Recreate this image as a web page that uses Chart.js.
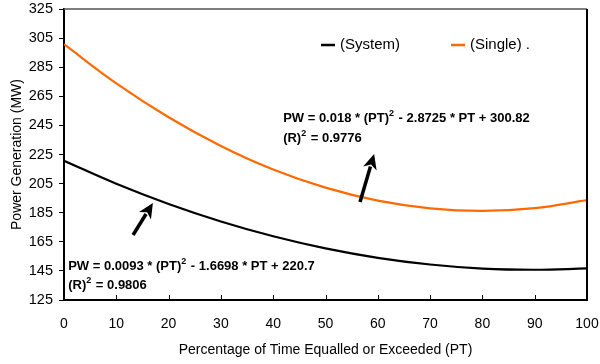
<!DOCTYPE html>
<html>
<head>
<meta charset="utf-8">
<script src="https://cdn.jsdelivr.net/npm/chart.js@4.4.1/dist/chart.umd.min.js"></script>
<style>
  html, body { margin: 0; padding: 0; background: #fff; }
  #wrap { width: 600px; height: 364px; }
</style>
</head>
<body>
<div id="wrap"><canvas id="chart" width="600" height="364"></canvas></div>
<script>
// ---------- Data ----------
const ptValues = [0, 10, 20, 30, 40, 50, 60, 70, 80, 90, 100];
const systemPW = [220.7, 204.9, 191.0, 179.0, 168.8, 160.5, 154.0, 149.4, 146.6, 145.8, 146.7];
const singlePW = [300.8, 273.9, 250.6, 230.9, 214.7, 202.2, 193.3, 188.0, 186.2, 188.1, 193.6];
const seriesLabels = ['(System)', '(Single) .'];
const yTicks = [125, 145, 165, 185, 205, 225, 245, 265, 285, 305, 325];
const xTicks = [0, 10, 20, 30, 40, 50, 60, 70, 80, 90, 100];

const FONT = '"Liberation Sans", Arial, sans-serif';
const BLACK = '#000000';
const ORANGE = '#FF6A00';

// ---------- Helpers ----------
function drawArrow(ctx, x1, y1, x2, y2) {
  const ang = Math.atan2(y2 - y1, x2 - x1);
  const headLen = 15, headW = 7;
  const bx = x2 - Math.cos(ang) * headLen, by = y2 - Math.sin(ang) * headLen;
  ctx.save();
  ctx.strokeStyle = BLACK; ctx.fillStyle = BLACK;
  ctx.lineWidth = 3.5; ctx.lineCap = 'butt';
  ctx.beginPath(); ctx.moveTo(x1, y1); ctx.lineTo(bx + Math.cos(ang) * 2, by + Math.sin(ang) * 2); ctx.stroke();
  ctx.beginPath();
  ctx.moveTo(x2, y2);
  ctx.lineTo(bx + Math.sin(ang) * headW, by - Math.cos(ang) * headW);
  ctx.lineTo(bx + Math.cos(ang) * 4, by + Math.sin(ang) * 4);
  ctx.lineTo(bx - Math.sin(ang) * headW, by + Math.cos(ang) * headW);
  ctx.closePath(); ctx.fill();
  ctx.restore();
}

// text with "^2" superscripts: parts = [[text, sup?], ...]
function drawEquation(ctx, x, y, parts) {
  let cx = x;
  for (const [t, sup] of parts) {
    ctx.font = sup ? 'bold 9px ' + FONT : 'bold 13px ' + FONT;
    ctx.fillText(t, cx, sup ? y - 6 : y);
    cx += ctx.measureText(t).width + (sup ? 1 : 0);
  }
}

// ---------- Overlay plugin: frame, x ticks, legend, equations, arrows ----------
const overlay = {
  id: 'overlay',
  afterDraw(chart) {
    const { ctx, chartArea: a, scales: { x, y } } = chart;
    ctx.save();
    // top + right frame
    ctx.strokeStyle = '#555'; ctx.lineWidth = 1.5;
    ctx.beginPath(); ctx.moveTo(a.left, a.top); ctx.lineTo(a.right, a.top); ctx.stroke();
    ctx.strokeStyle = BLACK; ctx.lineWidth = 2;
    ctx.beginPath(); ctx.moveTo(a.right, a.top); ctx.lineTo(a.right, a.bottom); ctx.stroke();
    // inward x tick marks
    ctx.lineWidth = 1;
    for (const v of xTicks) {
      const px = Math.round(x.getPixelForValue(v)) + 0.5;
      ctx.beginPath(); ctx.moveTo(px, a.bottom); ctx.lineTo(px, a.bottom - 5); ctx.stroke();
    }
    // legend
    const legend = [[321, BLACK, seriesLabels[0]], [451, ORANGE, seriesLabels[1]]];
    ctx.font = '15px ' + FONT; ctx.textBaseline = 'middle';
    for (const [lx, col, lab] of legend) {
      ctx.strokeStyle = col; ctx.lineWidth = 2.5;
      ctx.beginPath(); ctx.moveTo(lx, 45); ctx.lineTo(lx + 14, 45); ctx.stroke();
      ctx.fillStyle = '#000'; ctx.fillText(lab, lx + 19, 45);
    }
    // equations
    ctx.fillStyle = '#000'; ctx.textBaseline = 'alphabetic';
    const ux = x.getPixelForValue(41.9), uy = y.getPixelForValue(247.3);
    drawEquation(ctx, ux, uy, [['PW = 0.018 * (PT)'], ['2', true], [' - 2.8725 * PT + 300.82']]);
    drawEquation(ctx, ux, uy + 20, [['(R)'], ['2', true], [' = 0.9776']]);
    const lx = x.getPixelForValue(0.8), ly = y.getPixelForValue(145.6);
    drawEquation(ctx, lx, ly, [['PW = 0.0093 * (PT)'], ['2', true], [' - 1.6698 * PT + 220.7']]);
    drawEquation(ctx, lx, ly + 19, [['(R)'], ['2', true], [' = 0.9806']]);
    // arrows
    drawArrow(ctx, x.getPixelForValue(56.6), y.getPixelForValue(192.4), x.getPixelForValue(59.3), y.getPixelForValue(225.3));
    drawArrow(ctx, x.getPixelForValue(13.2), y.getPixelForValue(169.7), x.getPixelForValue(17.0), y.getPixelForValue(191.7));
    ctx.restore();
  }
};

// ---------- Chart ----------
new Chart(document.getElementById('chart'), {
  type: 'line',
  data: {
    datasets: [
      { label: seriesLabels[0], data: ptValues.map((v, i) => ({ x: v, y: systemPW[i] })), borderColor: BLACK, borderWidth: 2.2 },
      { label: seriesLabels[1], data: ptValues.map((v, i) => ({ x: v, y: singlePW[i] })), borderColor: ORANGE, borderWidth: 2.2 },
    ]
  },
  options: {
    responsive: false,
    animation: false,
    layout: { padding: { left: 0, right: 13, top: 9, bottom: 0 } },
    elements: { point: { radius: 0 }, line: { tension: 0.4, fill: false } },
    plugins: { legend: { display: false }, tooltip: { enabled: false } },
    scales: {
      x: {
        type: 'linear', min: 0, max: 100,
        afterBuildTicks: s => { s.ticks = xTicks.map(v => ({ value: v })); },
        afterFit: s => { s.height = 64; s.paddingLeft = 0; s.paddingRight = 0; },
        grid: { drawOnChartArea: false, drawTicks: false },
        border: { color: BLACK, width: 2 },
        ticks: { color: '#000', font: { family: FONT, size: 14 }, padding: 16, maxRotation: 0 },
        title: { display: true, text: 'Percentage of Time Equalled or Exceeded (PT)', color: '#000', font: { family: FONT, size: 14 }, padding: { top: 0, bottom: 5 } }
      },
      y: {
        min: 125, max: 325,
        afterBuildTicks: s => { s.ticks = yTicks.map(v => ({ value: v })); },
        afterFit: s => { s.width = 64; s.paddingTop = 0; s.paddingBottom = 0; },
        grid: { drawOnChartArea: false, tickLength: 5, color: BLACK },
        border: { color: BLACK, width: 2 },
        ticks: { color: '#000', font: { family: FONT, size: 14.5 }, padding: 6 },
        title: { display: true, text: 'Power Generation (MW)', color: '#000', font: { family: FONT, size: 14 }, padding: { top: 9, bottom: 0 } }
      }
    }
  },
  plugins: [overlay]
});
</script>
</body>
</html>
